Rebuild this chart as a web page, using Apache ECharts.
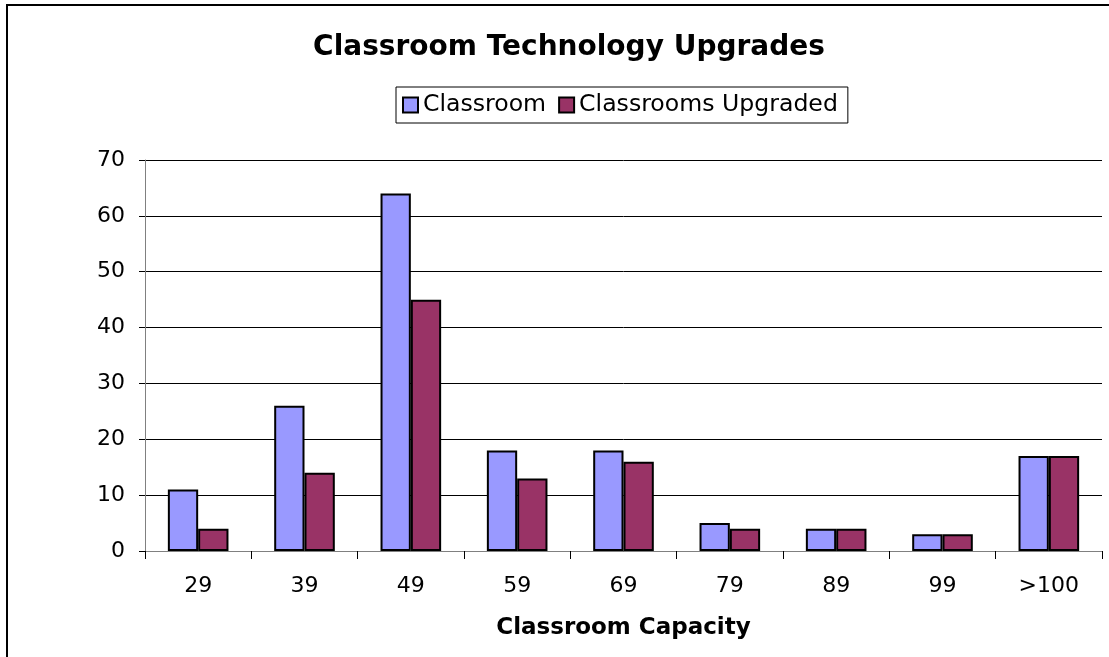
<!DOCTYPE html>
<html>
<head>
<meta charset="utf-8">
<script src="https://cdn.jsdelivr.net/npm/echarts@6/dist/echarts.min.js"></script>
<style>
html, body { margin: 0; padding: 0; background: #fff; }
#chart { width: 1109px; height: 657px; }
</style>
</head>
<body>
<div id="chart"></div>
<script>
"use strict";

/*****Data*****/
var capacities = ['29', '39', '49', '59', '69', '79', '89', '99', '>100'];
var classrooms = [11, 26, 64, 18, 18, 5, 4, 3, 17];
var upgraded = [4, 14, 45, 13, 16, 4, 4, 3, 17];

/*****Chart*****/
var chart = echarts.init(document.getElementById('chart'));
var barBorder = { borderColor: '#000', borderWidth: 2 };

chart.setOption({
	animation: false,
	textStyle: { fontFamily: 'DejaVu Sans' },
	graphic: [{
		type: 'rect',
		shape: { x: 7, y: 5, width: 1200, height: 800 },
		style: { fill: 'none', stroke: '#000', lineWidth: 2 },
		silent: true
	}],
	title: {
		text: 'Classroom Technology Upgrades',
		left: 564,
		top: 29,
		textAlign: 'center',
		textStyle: { fontFamily: 'DejaVu Sans', fontWeight: 'bold', fontSize: 28, color: '#000' }
	},
	legend: {
		left: 396,
		top: 87,
		padding: [6, 10, 6, 6],
		itemGap: 12,
		itemWidth: 15,
		itemHeight: 15,
		icon: 'rect',
		borderColor: '#000',
		borderWidth: 1,
		textStyle: { fontSize: 23.6, color: '#000' },
		data: ['Classroom', 'Classrooms Upgraded']
	},
	grid: { left: 145, right: 7, top: 160, bottom: 106 },
	xAxis: {
		type: 'category',
		data: capacities,
		name: 'Classroom Capacity',
		nameLocation: 'middle',
		nameGap: 66,
		nameTextStyle: { fontWeight: 'bold', fontSize: 23, color: '#000' },
		axisLine: { lineStyle: { color: '#808080', width: 1 } },
		axisTick: { show: true, length: 8, lineStyle: { color: '#000' } },
		axisLabel: { fontSize: 22, color: '#000', margin: 24 }
	},
	yAxis: {
		type: 'value',
		min: 0,
		max: 70,
		interval: 10,
		axisLine: { show: true, lineStyle: { color: '#808080', width: 1 } },
		axisTick: { show: true, length: 6, lineStyle: { color: '#000' } },
		axisLabel: { fontSize: 22, color: '#000', margin: 20 },
		splitLine: { lineStyle: { color: '#000', width: 1 } }
	},
	series: [
		{
			name: 'Classroom',
			type: 'bar',
			data: classrooms,
			barGap: '0%',
			barCategoryGap: '43%',
			itemStyle: Object.assign({ color: '#9999ff' }, barBorder)
		},
		{
			name: 'Classrooms Upgraded',
			type: 'bar',
			data: upgraded,
			itemStyle: Object.assign({ color: '#993366' }, barBorder)
		}
	]
});
</script>
</body>
</html>
